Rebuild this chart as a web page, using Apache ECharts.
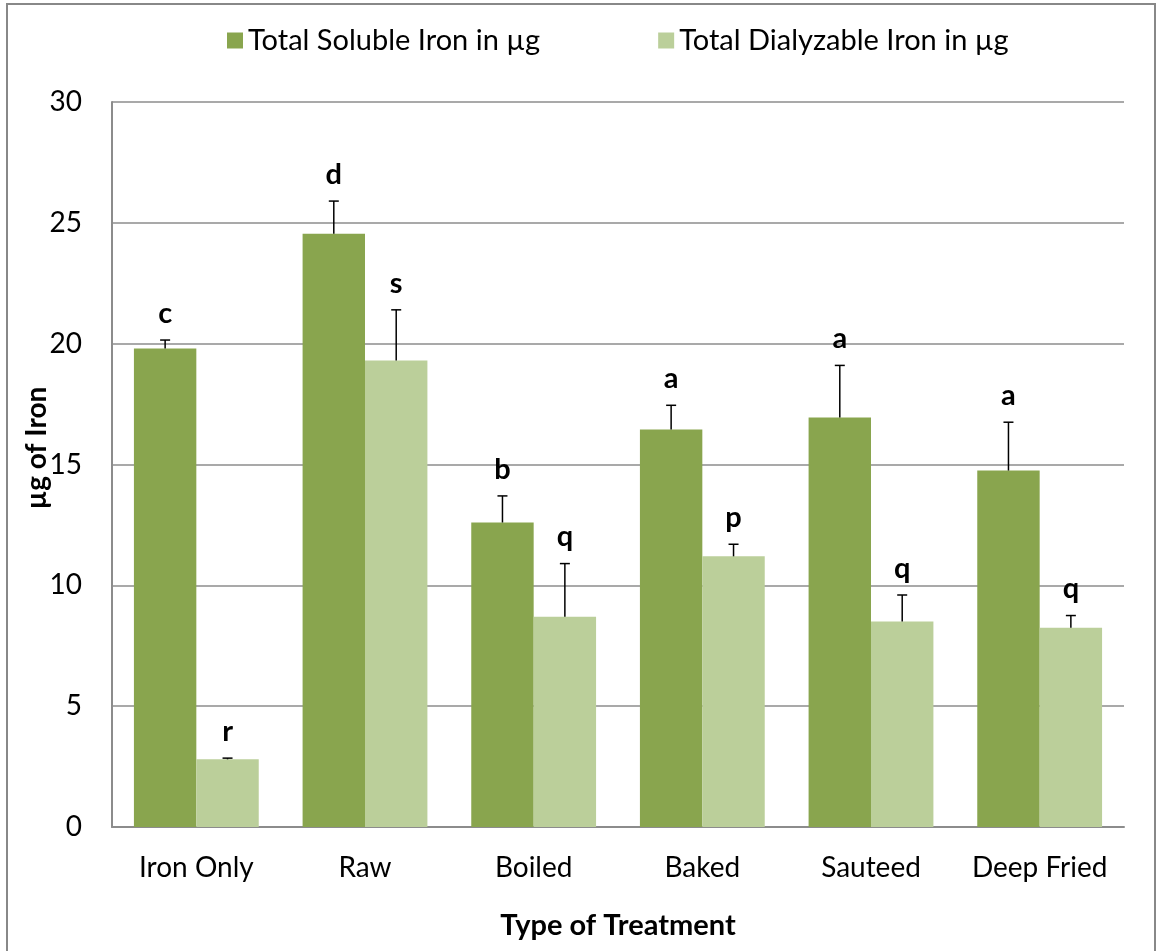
<!DOCTYPE html>
<html>
<head>
<meta charset="utf-8">
<script src="https://cdn.jsdelivr.net/npm/echarts@6/dist/echarts.min.js"></script>
<style>
  html, body { margin: 0; padding: 0; background: #fff; }
  #chart { width: 1158px; height: 951px; }
</style>
</head>
<body>
<div id="chart"></div>
<script>
// treatment categories
const categories = ['Iron Only', 'Raw', 'Boiled', 'Baked', 'Sauteed', 'Deep Fried']
// total soluble iron (µg) and its upper error
const soluble = [19.8, 24.55, 12.6, 16.45, 16.95, 14.75]
const solubleErr = [0.35, 1.35, 1.1, 1.0, 2.15, 2.0]
const solubleLetters = ['c', 'd', 'b', 'a', 'a', 'a']
// total dialyzable iron (µg) and its upper error
const dialyzable = [2.8, 19.3, 8.7, 11.2, 8.5, 8.25]
const dialyzableErr = [0.05, 2.1, 2.2, 0.5, 1.1, 0.5]
const dialyzableLetters = ['r', 's', 'q', 'p', 'q', 'q']

const fontFamily = 'Lato, "Open Sans", sans-serif'
const gridColor = '#8c8c8c'

// 误差线 + 字母标注
function errorSeries(values, errs, letters, shift) {
  return {
    type: 'custom',
    z: 5,
    silent: true,
    encode: { x: 0, y: 1 },
    data: values.map((v, i) => [i, v, errs[i], letters[i]]),
    renderItem(params, api) {
      const band = api.size([1, 0])[0]
      const base = api.coord([api.value(0), api.value(1)])
      const top = api.coord([api.value(0), api.value(1) + api.value(2)])
      const x = base[0] + band * shift
      const cap = 5
      return {
        type: 'group',
        children: [
          {
            type: 'line',
            shape: { x1: x, y1: base[1], x2: x, y2: top[1] },
            style: { stroke: '#000', lineWidth: 1.5 }
          },
          {
            type: 'line',
            shape: { x1: x - cap, y1: top[1], x2: x + cap, y2: top[1] },
            style: { stroke: '#000', lineWidth: 1.5 }
          },
          {
            type: 'text',
            style: {
              x: x,
              y: top[1] - 12,
              text: api.value(3),
              textAlign: 'center',
              textVerticalAlign: 'bottom',
              font: 'bold 29px ' + fontFamily,
              fill: '#000'
            }
          }
        ]
      }
    }
  }
}

const chart = echarts.init(document.getElementById('chart'))
chart.setOption({
  backgroundColor: '#fff',
  animation: false,
  textStyle: { fontFamily: fontFamily },
  graphic: [
    {
      type: 'rect',
      shape: { x: 7, y: 4, width: 1148, height: 980 },
      style: { fill: 'none', stroke: '#888', lineWidth: 2 },
      silent: true
    },
    {
      type: 'text',
      x: 37,
      y: 448,
      rotation: Math.PI / 2,
      style: {
        text: 'µg of Iron',
        textAlign: 'center',
        textVerticalAlign: 'middle',
        font: 'bold 28px ' + fontFamily,
        fill: '#000'
      },
      silent: true
    }
  ],
  legend: {
    top: 21,
    left: 222,
    itemWidth: 16,
    itemHeight: 16,
    itemGap: 118,
    icon: 'rect',
    textStyle: { fontSize: 29, color: '#000', fontFamily: fontFamily },
    data: ['Total Soluble Iron in µg', 'Total Dialyzable Iron in µg']
  },
  grid: { left: 112, right: 34, top: 102, bottom: 124 },
  xAxis: {
    type: 'category',
    data: categories,
    name: 'Type of Treatment',
    nameLocation: 'middle',
    nameGap: 84,
    nameTextStyle: { fontSize: 29, fontWeight: 'bold', color: '#000' },
    axisLine: { lineStyle: { color: gridColor, width: 2 } },
    axisTick: { show: false },
    axisLabel: { fontSize: 28, color: '#000', margin: 27, interval: 0 }
  },
  yAxis: {
    type: 'value',
    min: 0,
    max: 30,
    interval: 5,
    axisLine: { show: true, lineStyle: { color: gridColor, width: 2 } },
    axisTick: { show: false },
    axisLabel: { fontSize: 28, color: '#000', margin: 30 },
    splitLine: { lineStyle: { color: gridColor, width: 1.5 } }
  },
  series: [
    {
      name: 'Total Soluble Iron in µg',
      type: 'bar',
      data: soluble,
      barGap: 0,
      barCategoryGap: '26%',
      itemStyle: { color: '#89a54e' }
    },
    {
      name: 'Total Dialyzable Iron in µg',
      type: 'bar',
      data: dialyzable,
      itemStyle: { color: '#bbcf9a' }
    },
    errorSeries(soluble, solubleErr, solubleLetters, -0.185),
    errorSeries(dialyzable, dialyzableErr, dialyzableLetters, 0.185)
  ]
})
</script>
</body>
</html>
